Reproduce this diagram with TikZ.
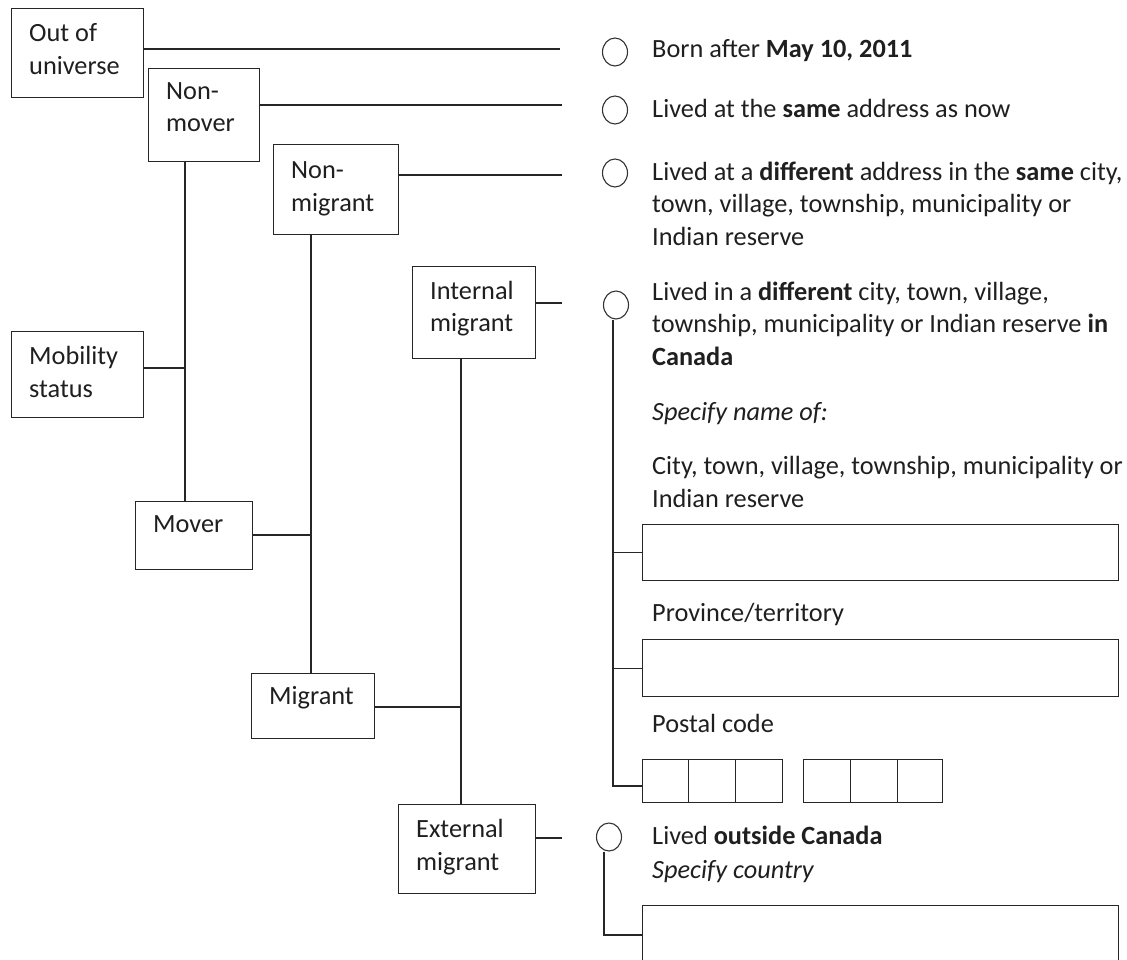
\documentclass[tikz,border=0pt]{standalone}
\usepackage{fontspec}
\setmainfont{Carlito}
\usetikzlibrary{shapes.geometric}
\begin{document}
\begin{tikzpicture}[x=1pt,y=-1pt,
  box/.style={draw=black!85, line width=1.3pt, inner sep=0pt, anchor=north west},
  radio/.style={draw=black!80, ellipse, line width=1.1pt, minimum width=25pt, minimum height=28pt, inner sep=0pt},
  txt/.style={anchor=base west, inner sep=0pt, text=black!88, font=\fontsize{26.3}{32}\selectfont},
  conn/.style={draw=black!85, line width=1.3pt}]
\useasboundingbox (0,0) rectangle (1127,959);
\clip (0,0) rectangle (1127,959);
\fill[white] (0,0) rectangle (1127,959);

% category boxes
\node[box, minimum width=132pt, minimum height=89pt] (oou) at (11,8) {};
\node[box, minimum width=111pt, minimum height=93pt] (nonmover) at (148,68) {};
\node[box, minimum width=125pt, minimum height=90pt] (nonmigrant) at (273,144) {};
\node[box, minimum width=123pt, minimum height=92pt] (internal) at (412,266) {};
\node[box, minimum width=132pt, minimum height=86pt] (mobility) at (11,331) {};
\node[box, minimum width=117pt, minimum height=68pt] (mover) at (135,501) {};
\node[box, minimum width=123pt, minimum height=65pt] (migrant) at (251,673) {};
\node[box, minimum width=137pt, minimum height=89pt] (external) at (398,804) {};

% box texts
\node[txt] (toou1) at (29,41) {Out of};
\node[txt] (toou2) at (29,74) {universe};
\node[txt] (tnm1) at (166,99) {Non-};
\node[txt] (tnm2) at (166,131) {mover};
\node[txt] (tnmg1) at (291,178) {Non-};
\node[txt] (tnmg2) at (291,211) {migrant};
\node[txt] (tint1) at (430,299) {Internal};
\node[txt] (tint2) at (430,331) {migrant};
\node[txt] (tmob1) at (29,364) {Mobility};
\node[txt] (tmob2) at (29,397) {status};
\node[txt] (tmov) at (153,532) {Mover};
\node[txt] (tmig) at (269,704) {Migrant};
\node[txt] (text1) at (416,837) {External};
\node[txt] (text2) at (416,870) {migrant};

% radio buttons
\node[radio] (r1) at (615,52) {};
\node[radio] (r2) at (615,110) {};
\node[radio] (r3) at (615,173) {};
\node[radio] (r4) at (616,305) {};
\node[radio] (r5) at (609,837) {};

% answer texts
\node[txt] (a1) at (652,57) {Born after \textbf{May 10, 2011}};
\node[txt] (a2) at (652,117) {Lived at the \textbf{same} address as now};
\node[txt] (a3a) at (652,180) {Lived at a \textbf{different} address in the \textbf{same} city,};
\node[txt] (a3b) at (652,212) {town, village, township, municipality or};
\node[txt] (a3c) at (652,245) {Indian reserve};
\node[txt] (a4a) at (652,300) {Lived in a \textbf{different} city, town, village,};
\node[txt] (a4b) at (652,332) {township, municipality or Indian reserve \textbf{in}};
\node[txt] (a4c) at (652,365) {\textbf{Canada}};
\node[txt] (a4d) at (652,420) {\textit{Specify name of:}};
\node[txt] (a4e) at (652,474) {City, town, village, township, municipality or};
\node[txt] (a4f) at (652,507) {Indian reserve};
\node[txt] (a4g) at (652,621) {Province/territory};
\node[txt] (a4h) at (652,732) {Postal code};
\node[txt] (a5a) at (652,844) {Lived \textbf{outside Canada}};
\node[txt] (a5b) at (652,878) {\textit{Specify country}};

% fields
\node[box, minimum width=476pt, minimum height=56pt] (city) at (642,524) {};
\node[box, minimum width=476pt, minimum height=57pt] (prov) at (642,639) {};
\node[box, minimum width=46pt, minimum height=43pt] (p1) at (642,759) {};
\node[box, minimum width=47pt, minimum height=43pt] (p2) at (688,759) {};
\node[box, minimum width=47pt, minimum height=43pt] (p3) at (735,759) {};
\node[box, minimum width=47pt, minimum height=43pt] (p4) at (803,759) {};
\node[box, minimum width=47pt, minimum height=43pt] (p5) at (850,759) {};
\node[box, minimum width=45pt, minimum height=43pt] (p6) at (897,759) {};
\node[box, minimum width=476pt, minimum height=90pt] (country) at (642,905) {};

% free ends and junctions
\coordinate (e1) at (560,49);
\coordinate (e2) at (562,105);
\coordinate (e3) at (562,175);
\coordinate (e4) at (562,303);
\coordinate (e5) at (562,838);
\coordinate (j1) at (185,368);
\coordinate (j2) at (311,535);
\coordinate (j3) at (461,707);
\coordinate (k4) at (613,786);
\coordinate (k5) at (604,935);

% connectors
\draw[conn] (oou.east |- e1) -- (e1);
\draw[conn] (nonmover.east |- e2) -- (e2);
\draw[conn] (nonmigrant.east |- e3) -- (e3);
\draw[conn] (internal.east |- e4) -- (e4);
\draw[conn] (external.east |- e5) -- (e5);

\draw[conn] (nonmover.south -| j1) -- (mover.north -| j1);
\draw[conn] (mobility.east |- j1) -- (j1);
\draw[conn] (nonmigrant.south -| j2) -- (migrant.north -| j2);
\draw[conn] (mover.east |- j2) -- (j2);
\draw[conn] (internal.south -| j3) -- (external.north -| j3);
\draw[conn] (migrant.east |- j3) -- (j3);

\draw[conn] (r4.south -| k4) -- (k4) -- (p1.west |- k4);
\draw[conn] (city.west -| k4) -- (city.west);
\draw[conn] (prov.west -| k4) -- (prov.west);
\draw[conn] (r5.south -| k5) -- (k5) -- (country.west |- k5);
\end{tikzpicture}
\end{document}
